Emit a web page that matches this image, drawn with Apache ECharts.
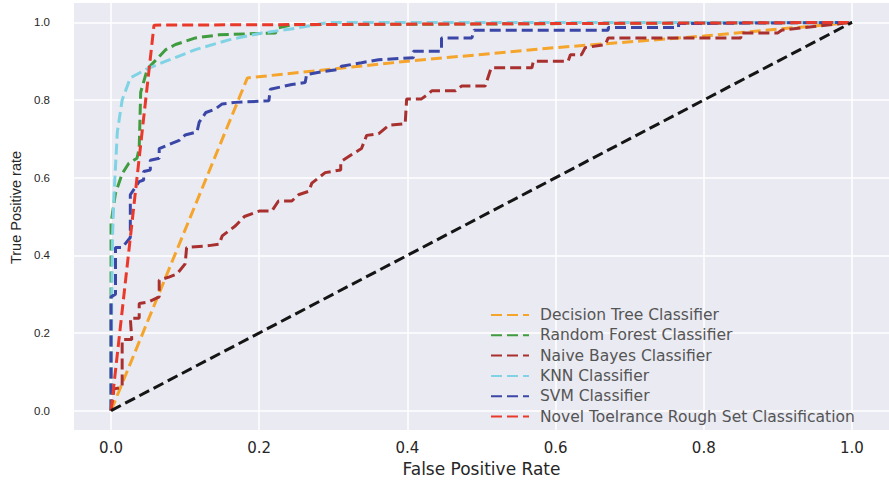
<!DOCTYPE html>
<html>
<head>
<meta charset="utf-8">
<script src="https://cdn.jsdelivr.net/npm/echarts@6/dist/echarts.min.js"></script>
<style>
html,body{margin:0;padding:0;background:#fff;}
#chart{width:889px;height:482px;}
</style>
</head>
<body>
<div id="chart"></div>
<script>
// ---- data ----
const xTicks = [0, 0.2, 0.4, 0.6, 0.8, 1.0];
const yTicks = [0, 0.2, 0.4, 0.6, 0.8, 1.0];

const seriesNames = [
  'Decision Tree Classifier',
  'Random Forest Classifier',
  'Naive Bayes Classifier',
  'KNN Classifier',
  'SVM Classifier',
  'Novel Toelrance Rough Set Classification'
];

const dtFpr = [0, 0.184, 0.4, 0.6, 0.8, 1];
const dtTpr = [0, 0.857, 0.9, 0.935, 0.965, 1];

const rfFpr = [0, 0, 0.006, 0.015, 0.024, 0.035, 0.038, 0.04, 0.049, 0.074, 0.087, 0.114, 0.146, 0.222, 0.226, 0.244, 1];
const rfTpr = [0, 0.484, 0.56, 0.61, 0.637, 0.65, 0.675, 0.82, 0.88, 0.93, 0.943, 0.96, 0.968, 0.973, 0.986, 0.994, 1];

const nbFpr = [0, 0, 0.004, 0.015, 0.015, 0.028, 0.026, 0.038, 0.038, 0.051, 0.065, 0.065, 0.078, 0.089, 0.1, 0.102, 0.132, 0.146, 0.15, 0.168, 0.18, 0.2, 0.217, 0.226, 0.244, 0.253, 0.267, 0.271, 0.289, 0.31, 0.31, 0.327, 0.338, 0.345, 0.361, 0.375, 0.397, 0.399, 0.419, 0.428, 0.433, 0.465, 0.473, 0.505, 0.513, 0.568, 0.57, 0.617, 0.62, 0.635, 0.64, 0.667, 0.671, 0.85, 0.85, 0.9, 0.905, 1];
const nbTpr = [0, 0.005, 0.056, 0.06, 0.183, 0.183, 0.238, 0.238, 0.276, 0.28, 0.293, 0.336, 0.344, 0.352, 0.378, 0.42, 0.425, 0.429, 0.45, 0.476, 0.5, 0.514, 0.514, 0.54, 0.54, 0.556, 0.565, 0.586, 0.613, 0.62, 0.641, 0.662, 0.675, 0.709, 0.713, 0.735, 0.739, 0.803, 0.803, 0.815, 0.824, 0.824, 0.836, 0.836, 0.883, 0.883, 0.9, 0.9, 0.917, 0.917, 0.935, 0.943, 0.96, 0.96, 0.973, 0.973, 0.98, 1];

const knnFpr = [0, 0.001, 0.002, 0.004, 0.0085, 0.015, 0.026, 0.047, 0.074, 0.114, 0.159, 0.204, 0.249, 0.294, 1];
const knnTpr = [0, 0.3, 0.45, 0.556, 0.718, 0.8, 0.857, 0.879, 0.9, 0.93, 0.955, 0.973, 0.985, 1, 1];

const svmFpr = [0, 0, 0.006, 0.006, 0.015, 0.026, 0.026, 0.038, 0.044, 0.044, 0.053, 0.053, 0.065, 0.065, 0.075, 0.092, 0.1, 0.116, 0.119, 0.128, 0.141, 0.15, 0.168, 0.213, 0.215, 0.244, 0.262, 0.264, 0.289, 0.307, 0.311, 0.338, 0.361, 0.408, 0.408, 0.446, 0.446, 0.487, 0.49, 0.671, 0.671, 0.766, 0.766, 1];
const svmTpr = [0, 0.293, 0.3, 0.42, 0.42, 0.446, 0.556, 0.59, 0.594, 0.616, 0.62, 0.645, 0.65, 0.675, 0.683, 0.696, 0.71, 0.718, 0.743, 0.768, 0.777, 0.79, 0.794, 0.798, 0.828, 0.84, 0.845, 0.866, 0.874, 0.879, 0.887, 0.896, 0.904, 0.909, 0.926, 0.926, 0.96, 0.96, 0.98, 0.98, 0.987, 0.987, 0.997, 1];

const ntrsFpr = [0, 0.058, 1];
const ntrsTpr = [0, 0.993, 1];

const chanceFpr = [0, 1];
const chanceTpr = [0, 1];

// ---- styling ----
const colors = ['#f5a52c', '#3f9c3f', '#a8312f', '#7fd3e4', '#3b47a6', '#e8392b'];
const zip = (a, b) => a.map((v, i) => [v, b[i]]);
const curves = [
  zip(dtFpr, dtTpr), zip(rfFpr, rfTpr), zip(nbFpr, nbTpr),
  zip(knnFpr, knnTpr), zip(svmFpr, svmTpr), zip(ntrsFpr, ntrsTpr)
];

const series = curves.map((d, i) => ({
  name: seriesNames[i],
  type: 'line',
  data: d,
  symbol: 'none',
  showSymbol: false,
  animation: false,
  color: colors[i],
  lineStyle: { color: colors[i], width: 3, type: [11, 5] },
  z: 2 + i
}));
series.push({
  name: 'chance',
  type: 'line',
  data: zip(chanceFpr, chanceTpr),
  symbol: 'none',
  animation: false,
  color: '#151515',
  lineStyle: { color: '#151515', width: 3, type: [11, 5] },
  z: 10
});

const chart = echarts.init(document.getElementById('chart'), null, { renderer: 'svg' });
chart.setOption({
  animation: false,
  backgroundColor: '#ffffff',
  grid: {
    left: 74, top: 3, width: 818, height: 432,
    show: true, backgroundColor: '#eaeaf2', borderWidth: 0
  },
  legend: {
    data: seriesNames,
    orient: 'vertical',
    left: 485, top: 302,
    itemWidth: 38, itemHeight: 14, itemGap: 4.3,
    itemStyle: { opacity: 0 },
    textStyle: { fontFamily: 'DejaVu Sans', fontSize: 15.5, color: '#555555', padding: [0, 0, 0, 6] }
  },
  xAxis: {
    type: 'value', min: -0.05, max: 1.05,
    name: 'False Positive Rate', nameLocation: 'middle', nameGap: 30,
    nameTextStyle: { fontFamily: 'DejaVu Sans', fontSize: 17, color: '#262626' },
    axisLine: { show: false },
    axisTick: { show: false, customValues: xTicks },
    axisLabel: { customValues: xTicks, margin: 10, fontFamily: 'DejaVu Sans', fontSize: 15, color: '#262626',
      formatter: v => v.toFixed(1) },
    splitLine: { show: true, lineStyle: { color: '#ffffff', width: 1.5 } }
  },
  yAxis: {
    type: 'value', min: -0.05, max: 1.05,
    name: 'True Positive rate', nameLocation: 'middle', nameGap: 50,
    nameTextStyle: { fontFamily: 'Liberation Sans', fontSize: 14.5, color: '#262626', padding: [0, 0, 0, 18] },
    axisLine: { show: false },
    axisTick: { show: false, customValues: yTicks },
    axisLabel: { customValues: yTicks, margin: 24, fontFamily: 'Liberation Sans', fontSize: 11.5, color: '#262626',
      formatter: v => v.toFixed(1) },
    splitLine: { show: true, lineStyle: { color: '#ffffff', width: 1.5 } }
  },
  series: series
});
</script>
</body>
</html>
